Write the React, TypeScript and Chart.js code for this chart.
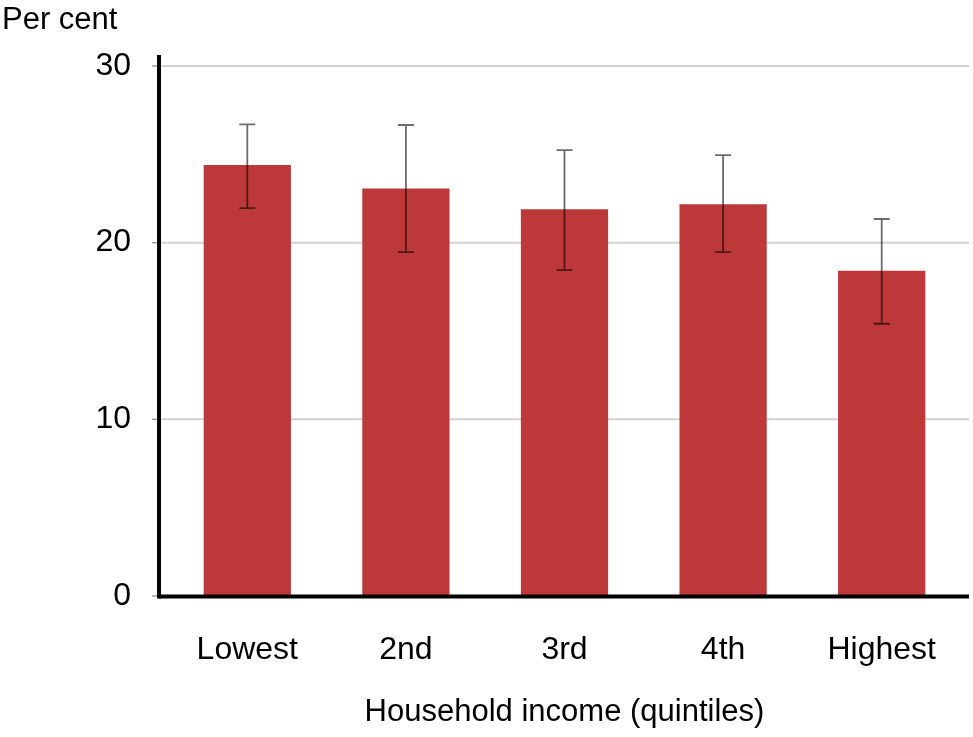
import React, { useEffect, useRef } from "react";
import { Chart, registerables } from "chart.js";

Chart.register(...registerables);

const categories = ["Lowest", "2nd", "3rd", "4th", "Highest"];
const values = [24.4, 23.06, 21.89, 22.17, 18.41];
const errLow = [21.96, 19.47, 18.45, 19.47, 15.41];
const errHigh = [26.7, 26.66, 25.24, 24.96, 21.34];
const yTicks = [0, 10, 20, 30];
const yTitle = "Per cent";
const xTitle = "Household income (quintiles)";

const FONT = "'Liberation Sans', Arial, Helvetica, sans-serif";

const framePlugin = {
  id: "frame",
  beforeDatasetsDraw(chart: any) {
    const { ctx } = chart;
    const y = chart.scales.y;
    const a = chart.chartArea;
    ctx.save();
    ctx.strokeStyle = "#d2d2d2";
    ctx.lineWidth = 2;
    yTicks.forEach((t) => {
      if (t === 0) return;
      const py = y.getPixelForValue(t);
      ctx.beginPath();
      ctx.moveTo(a.left - 8, py);
      ctx.lineTo(a.right + 8, py);
      ctx.stroke();
    });
    ctx.restore();
  },
  afterDatasetsDraw(chart: any) {
    const { ctx } = chart;
    const x = chart.scales.x;
    const y = chart.scales.y;
    const a = chart.chartArea;
    ctx.save();
    // error bars
    ctx.strokeStyle = "rgba(0,0,0,0.58)";
    ctx.lineWidth = 1.8;
    categories.forEach((_, i) => {
      const px = x.getPixelForValue(i);
      const lo = y.getPixelForValue(errLow[i]);
      const hi = y.getPixelForValue(errHigh[i]);
      ctx.beginPath();
      ctx.moveTo(px, lo);
      ctx.lineTo(px, hi);
      ctx.moveTo(px - 8, lo);
      ctx.lineTo(px + 8, lo);
      ctx.moveTo(px - 8, hi);
      ctx.lineTo(px + 8, hi);
      ctx.stroke();
    });
    // tick marks
    ctx.strokeStyle = "#888";
    ctx.lineWidth = 1.2;
    yTicks.forEach((t) => {
      const py = y.getPixelForValue(t);
      ctx.beginPath();
      ctx.moveTo(a.left - 16, py);
      ctx.lineTo(a.left - 9, py);
      ctx.stroke();
    });
    // axes
    ctx.strokeStyle = "#000";
    ctx.lineWidth = 4;
    const y0 = y.getPixelForValue(0) + 0.5;
    ctx.beginPath();
    ctx.moveTo(a.left - 9, a.top - 11);
    ctx.lineTo(a.left - 9, y0 + 2);
    ctx.stroke();
    ctx.beginPath();
    ctx.moveTo(a.left - 9, y0);
    ctx.lineTo(a.right + 8, y0);
    ctx.stroke();
    // titles
    ctx.fillStyle = "#000";
    ctx.font = `31px ${FONT}`;
    ctx.textAlign = "left";
    ctx.textBaseline = "alphabetic";
    ctx.fillText(yTitle, 2, 29);
    ctx.font = `31px ${FONT}`;
    ctx.textAlign = "center";
    ctx.fillText(xTitle, (a.left + a.right) / 2, 721);
    ctx.restore();
  },
};

export default function App() {
  const ref = useRef<HTMLCanvasElement | null>(null);
  useEffect(() => {
    if (!ref.current) return;
    const chart = new Chart(ref.current, {
      type: "bar",
      data: {
        labels: categories,
        datasets: [
          {
            data: values,
            backgroundColor: "#BD3838",
            borderWidth: 0,
            barPercentage: 0.55,
            categoryPercentage: 1,
          },
        ],
      },
      options: {
        animation: false,
        responsive: false,
        maintainAspectRatio: false,
        layout: { padding: { top: 66, right: 12, left: 0, bottom: 0 } },
        plugins: { legend: { display: false }, tooltip: { enabled: false } },
        scales: {
          x: {
            grid: { display: false, drawTicks: false },
            border: { display: false },
            ticks: {
              color: "#000",
              padding: 35,
              font: { family: FONT, size: 32 },
              maxRotation: 0,
            },
            afterFit: (s: any) => {
              s.height = 141;
            },
          },
          y: {
            min: 0,
            max: 30,
            grid: { display: false, drawTicks: false },
            border: { display: false },
            afterBuildTicks: (s: any) => {
              s.ticks = yTicks.map((v) => ({ value: v }));
            },
            ticks: {
              color: "#000",
              padding: 37,
              font: { family: FONT, size: 32 },
            },
            afterFit: (s: any) => {
              s.width = 168;
            },
          },
        },
      },
      plugins: [framePlugin],
    });
    return () => chart.destroy();
  }, []);
  return (
    <div style={{ position: "fixed", left: 0, top: 0, width: 973, height: 737, background: "#fff" }}>
      <canvas ref={ref} width={973} height={737} style={{ width: 973, height: 737 }} />
    </div>
  );
}
